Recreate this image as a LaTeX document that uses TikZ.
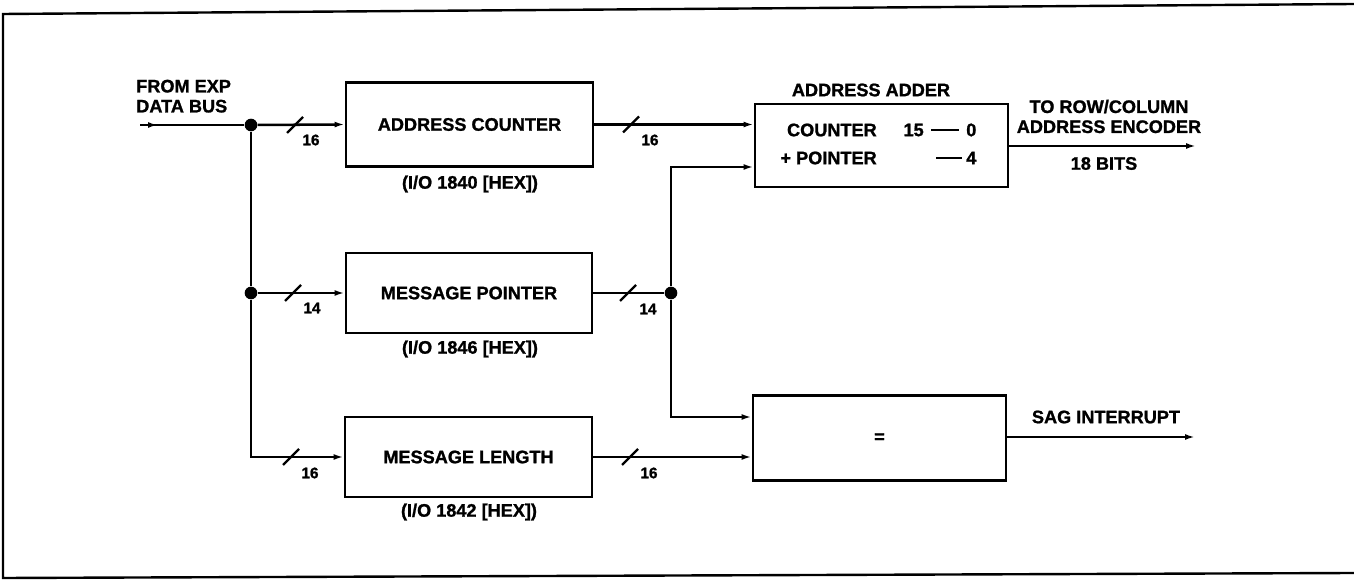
\documentclass[tikz,border=0pt]{standalone}
\usepackage{fontspec}
\setmainfont[BoldFeatures={FakeBold=1.2}]{Liberation Sans}
\usetikzlibrary{arrows.meta,calc}
\begin{document}
\begin{tikzpicture}[x=0.75pt,y=-0.75pt,
  font=\fontsize{13.6pt}{15pt}\selectfont\bfseries,
  box/.style={draw, line width=2.2pt, inner sep=0pt},
  wire/.style={line width=1.9pt},
  arr/.style={wire, -{Latex[length=7.5pt,width=4.5pt]}},
  lbl/.style={inner sep=0pt},
  num/.style={inner sep=0pt, font=\fontsize{11.5pt}{12pt}\selectfont\bfseries},
  dot/.style={circle, fill, inner sep=0pt, minimum size=9.5pt},
  frame/.style={line width=1.8pt},
  busmark/.pic={\draw[line width=1.6pt] (-8,8) -- (8,-8);}
]
\useasboundingbox (0,0) rectangle (1354,580);

% frame (open on the right)
\coordinate (ftr) at (1354,4);
\coordinate (ftl) at (3,14);
\coordinate (fbl) at (3,578);
\coordinate (fbr) at (1354,573);
\draw[frame] (ftr) -- (ftl) -- (fbl) -- (fbr);

% boxes
\node[box, minimum width=185.25pt, minimum height=63pt] (ac) at (469.5,124.5) {ADDRESS COUNTER};
\node[box, minimum width=184.5pt, minimum height=60pt] (mp) at (469,293) {MESSAGE POINTER};
\node[box, minimum width=185.25pt, minimum height=60pt] (ml) at (468.5,457) {MESSAGE LENGTH};
\node[box, minimum width=189.75pt, minimum height=62.25pt] (adder) at (881.5,145.5) {};
\node[box, minimum width=189.75pt, minimum height=63.75pt] (cmp) at (879.5,438) {=};

% labels under registers
\node[lbl] (acl) at (470,184) {(I/O 1840 [HEX])};
\node[lbl] (mpl) at (470,349) {(I/O 1846 [HEX])};
\node[lbl] (mll) at (469,512) {(I/O 1842 [HEX])};

% adder contents
\node[lbl] (aat) at (871,90) {ADDRESS ADDER};
\node[lbl, anchor=east] (cnt) at (877,130) {COUNTER};
\node[lbl, anchor=east] (c15) at (924,130) {15};
\coordinate (d1a) at (931,130);
\coordinate (d1b) at (959,130);
\draw[wire] (d1a) -- (d1b);
\node[lbl, anchor=west] (c0) at (966,130) {0};
\node[lbl, anchor=east] (ptr) at (877,158) {+ POINTER};
\coordinate (d2a) at (936,158);
\coordinate (d2b) at (962,158);
\draw[wire] (d2a) -- (d2b);
\node[lbl, anchor=west] (c4) at (966,158) {4};

% input
\node[lbl, anchor=north west, align=left] (fromt) at (136,79.5) {FROM EXP\\DATA BUS};
\coordinate (in) at (140,125);
\coordinate (inh) at (158,125);
\node[dot] (j1) at (251,125) {};
\node[dot] (j2) at (251,293) {};
\node[dot] (j3) at (671,293) {};

\draw[wire] (in) -- (j1);
\draw[arr] (in) -- (inh);
\draw[arr] (j1) -- (ac.west);
\draw[wire] (j1) -- (j2);
\draw[arr] (j2) -- (mp.west);
\draw[arr] (j2) |- (ml.west);

\draw[arr] (ac.east) -- (ac.east -| adder.west);
\draw[wire] (mp.east) -- (j3);
\draw[arr] (j3) |- ($(adder.west)+(0,21.5)$);
\draw[arr] (j3) |- ($(cmp.west)+(0,-21)$);
\draw[arr] (ml.east) -- (ml.east -| cmp.west);

% outputs
\coordinate (out1) at (1196,146);
\coordinate (out2) at (1195,437);
\draw[arr] (adder.east |- out1) -- (out1);
\draw[arr] (cmp.east |- out2) -- (out2);
\node[lbl, align=center] (tot) at (1109,116.5) {TO ROW/COLUMN\\ADDRESS ENCODER};
\node[lbl] (bits) at (1104,163.5) {18 BITS};
\node[lbl] (sag) at (1106,417) {SAG INTERRUPT};

% bus width marks
\pic at (295,125) {busmark};
\pic at (631,124.5) {busmark};
\pic at (293,293) {busmark};
\pic at (628,293) {busmark};
\pic at (291,457) {busmark};
\pic at (630,457) {busmark};
\node[num] (n1) at (311,140) {16};
\node[num] (n2) at (650,140) {16};
\node[num] (n3) at (312,308) {14};
\node[num] (n4) at (648,309) {14};
\node[num] (n5) at (310,473) {16};
\node[num] (n6) at (649,473) {16};
\end{tikzpicture}
\end{document}
